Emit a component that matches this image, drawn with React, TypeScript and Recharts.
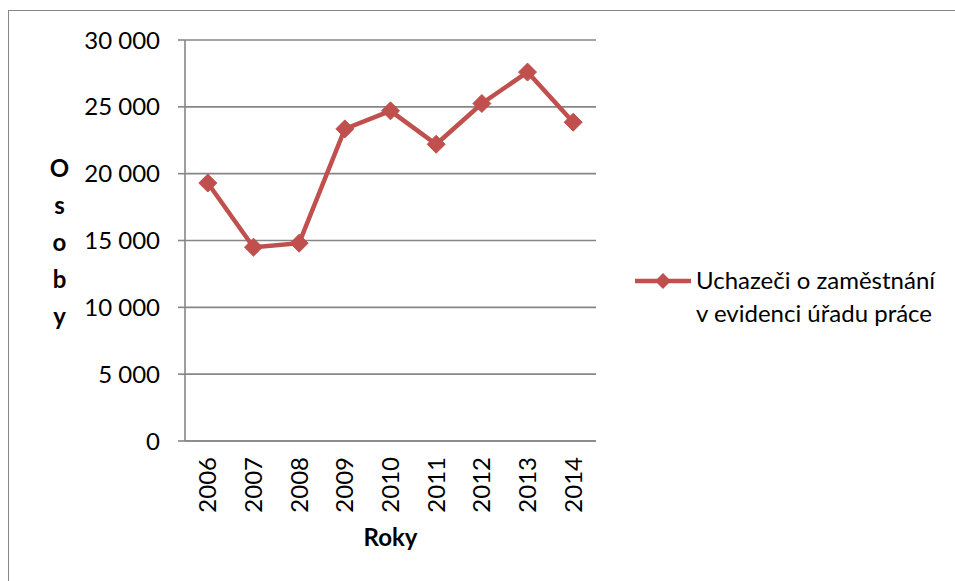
import React from 'react';
import { LineChart, Line, XAxis, YAxis, CartesianGrid, Legend, Label } from 'recharts';

const years = ['2006', '2007', '2008', '2009', '2010', '2011', '2012', '2013', '2014'];
const applicants = [19300, 14500, 14800, 23350, 24700, 22200, 25250, 27600, 23850];
const yTicks = [0, 5000, 10000, 15000, 20000, 25000, 30000];
const boundaryTicks = [0, 1, 2, 3, 4, 5, 6, 7, 8, 9];
const seriesName = ['Uchazeči o zaměstnání', 'v evidenci úřadu práce'];
const yTitle = 'Osoby';
const xTitle = 'Roky';

const data = years.map((y, i) => ({ year: y, value: applicants[i], pos: i + 0.5 }));

const FONT = 'Lato, "Open Sans", sans-serif';
const GRID = '#868686';
const RED = '#C0504D';

const fmt = (v: number) => String(v).replace(/\B(?=(\d{3})+(?!\d))/g, ' ');

const Diamond = (props: any) => {
  const { cx, cy } = props;
  if (cx == null || cy == null) return null;
  const r = 9;
  return (
    <polygon
      points={`${cx},${cy - r} ${cx + r},${cy} ${cx},${cy + r} ${cx - r},${cy}`}
      fill={RED}
      stroke={RED}
      strokeWidth={1}
    />
  );
};

const YearTick = (props: any) => {
  const { x, y, payload } = props;
  return (
    <text
      x={x}
      y={y}
      transform={`rotate(-90, ${x}, ${y})`}
      textAnchor="end"
      dy="0.35em"
      fontSize={24}
      fontFamily={FONT}
      fill="#000"
    >
      {payload.value}
    </text>
  );
};

const LegendContent = () => (
  <svg width={330} height={75} style={{ display: 'block' }}>
    <line x1={5} y1={21} x2={61} y2={21} stroke={RED} strokeWidth={4.5} />
    <polygon points="33,13 41,21 33,29 25,21" fill={RED} />
    <text x={66} y={29} fontSize={24} fontFamily={FONT} fill="#000">{seriesName[0]}</text>
    <text x={66} y={62} fontSize={24} fontFamily={FONT} fill="#000">{seriesName[1]}</text>
  </svg>
);

export default function App() {
  return (
    <div style={{ position: 'absolute', left: 0, top: 0, width: 955, height: 581, background: '#fff', overflow: 'hidden' }}>
      <div
        style={{
          position: 'absolute',
          left: 8,
          top: 10,
          width: 960,
          height: 600,
          borderTop: `1px solid ${GRID}`,
          borderLeft: `1px solid ${GRID}`,
        }}
      />
      <div style={{ position: 'absolute', left: 0, top: 0 }}>
        <LineChart width={955} height={581} data={data} margin={{ top: 40, right: 359, left: 0, bottom: 29 }}>
          <CartesianGrid xAxisId="cat" vertical={false} stroke={GRID} strokeWidth={1.6} />
          <XAxis
            xAxisId="bnd"
            type="number"
            dataKey="pos"
            domain={[0, 9]}
            ticks={boundaryTicks}
            height={1}
            tick={false}
            tickSize={8}
            tickLine={{ stroke: GRID, strokeWidth: 1.6 }}
            axisLine={{ stroke: GRID, strokeWidth: 1.6 }}
            allowDataOverflow
          />
          <XAxis
            xAxisId="cat"
            dataKey="year"
            height={110}
            padding={{ left: 22.8, right: 22.8 }}
            tickLine={false}
            axisLine={false}
            tickSize={0}
            tickMargin={15}
            interval={0}
            tick={<YearTick />}
          >
            <Label
              content={(p: any) => {
                const vb = p.viewBox || { x: 185, width: 411 };
                return (
                  <text
                    x={vb.x + vb.width / 2}
                    y={546}
                    textAnchor="middle"
                    fontSize={24}
                    fontWeight="bold"
                    fontFamily={FONT}
                    fill="#000"
                  >
                    {xTitle}
                  </text>
                );
              }}
            />
          </XAxis>
          <YAxis
            width={185}
            domain={[0, 30000]}
            ticks={yTicks}
            tickFormatter={fmt}
            tickSize={7}
            tickMargin={18}
            tickLine={{ stroke: GRID, strokeWidth: 1.6 }}
            axisLine={{ stroke: GRID, strokeWidth: 1.6 }}
            tick={{ fontSize: 24, fontFamily: FONT, fill: '#000' }}
          >
            <Label
              content={() => (
                <text textAnchor="middle" fontSize={24} fontWeight="bold" fontFamily={FONT} fill="#000">
                  {yTitle.split('').map((ch, i) => (
                    <tspan key={i} x={59.5} y={177 + i * 37}>
                      {ch}
                    </tspan>
                  ))}
                </text>
              )}
            />
          </YAxis>
          <Legend
            layout="horizontal"
            align="center"
            verticalAlign="middle"
            content={<LegendContent />}
            wrapperStyle={{ left: 630, top: 260, width: 330, height: 75 }}
          />
          <Line
            xAxisId="cat"
            type="linear"
            dataKey="value"
            stroke={RED}
            strokeWidth={4.5}
            dot={<Diamond />}
            activeDot={false}
            isAnimationActive={false}
          />
        </LineChart>
      </div>
    </div>
  );
}
